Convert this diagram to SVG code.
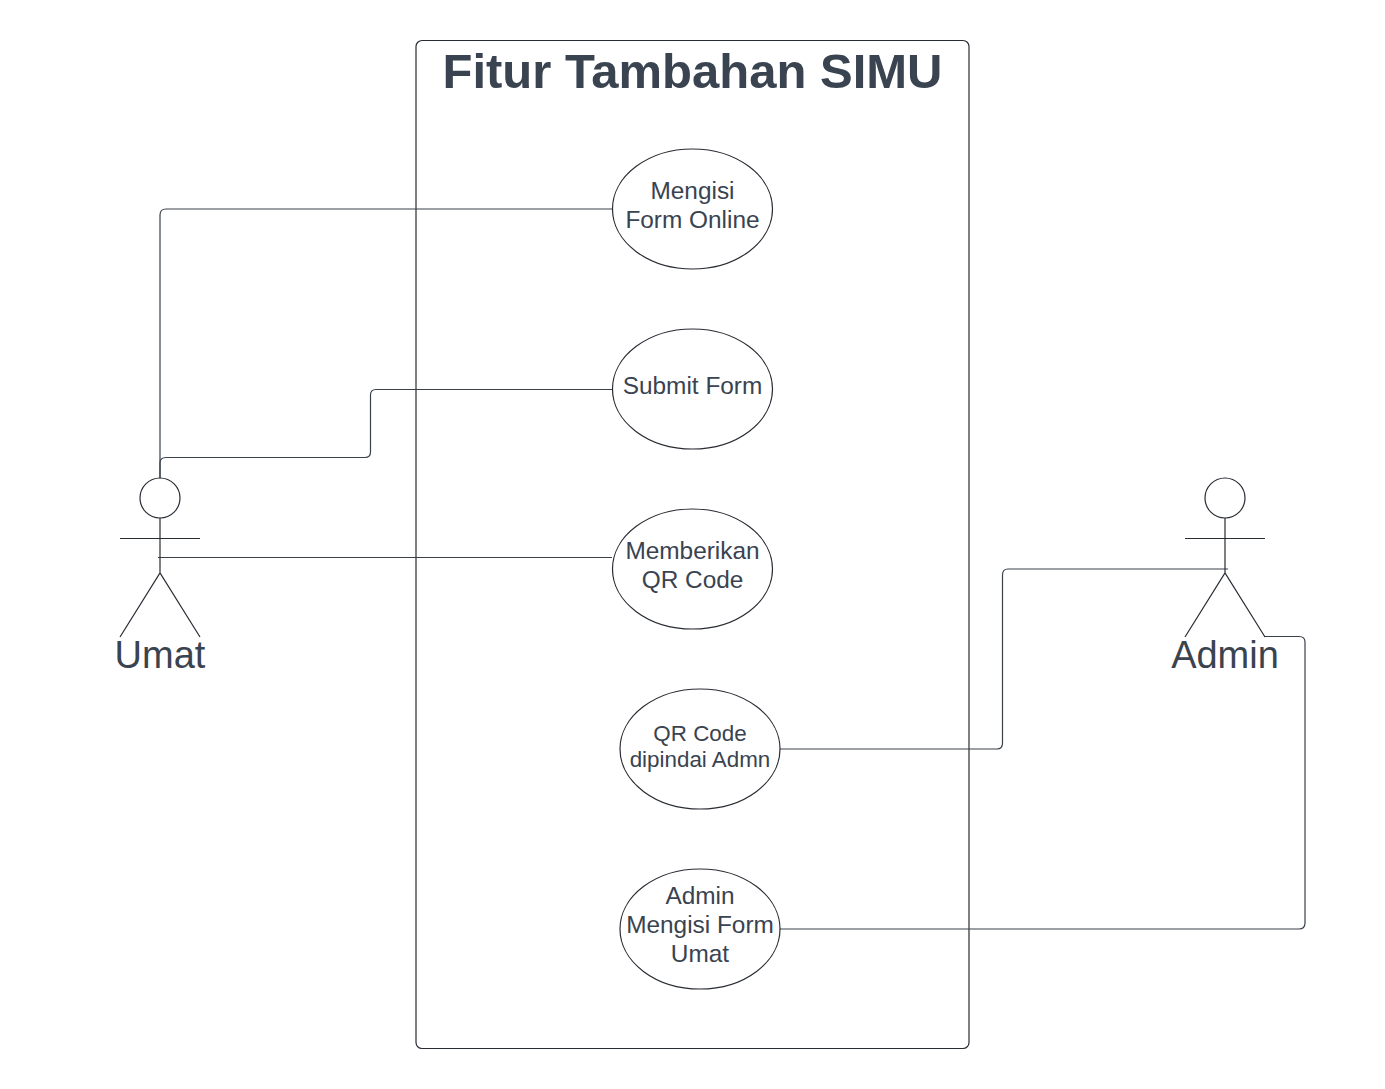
<svg xmlns="http://www.w3.org/2000/svg" width="1385" height="1089" viewBox="0 0 1385 1089">
<style>
.s{fill:none;stroke:#3a414a;stroke-width:1.2}
.e{fill:#fff;stroke:#282c33;stroke-width:1.2}
.k{fill:none;stroke:#282c33;stroke-width:1.2}
text{font-family:"Liberation Sans",Arial,sans-serif;fill:#3a4350;text-anchor:middle}
.u{font-size:24.4px}
.a{font-size:38px}
</style>
<rect width="1385" height="1089" fill="#fff"/>
<g id="system"><rect x="416" y="40.500" width="553" height="1008" rx="6" class="k"/>
<text x="692.500" y="87.500" font-size="49" font-weight="bold">Fitur Tambahan SIMU</text></g>
<g id="connectors">
<path class="s" d="M160 478V215Q160 209 166 209H612"/>
<path class="s" d="M160 478V463Q160 457.500 166 457.500H365Q370.500 457.500 370.500 452V395Q370.500 389.500 376 389.500H612"/>
<path class="s" d="M158 557.500H612"/>
<path class="s" d="M780 749H997Q1002.500 749 1002.500 743V575Q1002.500 569 1008 569H1228"/>
<path class="s" d="M780 929H1299Q1305 929 1305 923V642Q1305 636.500 1299 636.500H1264"/>
</g>
<g id="uc1"><ellipse cx="692.500" cy="209" rx="80" ry="60" class="e"/><text class="u" x="692.500" y="198.500">Mengisi</text><text class="u" x="692.500" y="227.500">Form Online</text></g>
<g id="uc2"><ellipse cx="692.500" cy="389" rx="80" ry="60" class="e"/><text class="u" x="692.500" y="393.500">Submit Form</text></g>
<g id="uc3"><ellipse cx="692.500" cy="569" rx="80" ry="60" class="e"/><text class="u" x="692.500" y="558.500">Memberikan</text><text class="u" x="692.500" y="587.500">QR Code</text></g>
<g id="uc4"><ellipse cx="700" cy="749" rx="80" ry="60" class="e"/><text font-size="22.400" x="700" y="741">QR Code</text><text font-size="22.400" x="700" y="767">dipindai Admn</text></g>
<g id="uc5"><ellipse cx="700" cy="929" rx="80" ry="60" class="e"/><text class="u" x="700" y="903.500">Admin</text><text class="u" x="700" y="932.500">Mengisi Form</text><text class="u" x="700" y="961.500">Umat</text></g>
<g id="umat"><circle cx="160" cy="498" r="20" class="k"/><path class="k" d="M160 518V573M120 538.500H200M120 637L160 573L200 637"/><text class="a" x="160" y="668">Umat</text></g>
<g id="admin"><circle cx="1225" cy="498" r="20" class="k"/><path class="k" d="M1225 518V573M1185 538.500H1265M1185 637L1225 573L1265 637"/><text class="a" x="1225" y="668">Admin</text></g>
</svg>
